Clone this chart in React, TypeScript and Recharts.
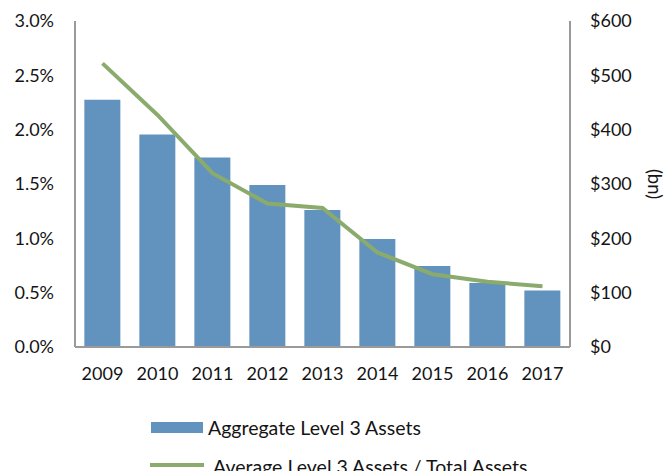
import React from 'react';
import { ComposedChart, Bar, Line, XAxis, YAxis, Legend } from 'recharts';

const years = ['2009', '2010', '2011', '2012', '2013', '2014', '2015', '2016', '2017'];
const aggregateLevel3 = [455, 391, 349, 298, 252, 199, 149, 118, 104];
const avgRatio = [2.61, 2.135, 1.6, 1.32, 1.28, 0.87, 0.67, 0.6, 0.56];
const pctTicks = [0, 0.5, 1, 1.5, 2, 2.5, 3];
const usdTicks = [0, 100, 200, 300, 400, 500, 600];

const data = years.map((y, i) => ({ year: y, agg: aggregateLevel3[i], ratio: avgRatio[i] }));

const FONT = 'Lato, "Open Sans", sans-serif';
const BAR = '#6193be';
const LINE = '#8bab6d';
const AXIS = '#9a9a9a';
const TXT = '#141414';

const renderLegend = () => (
  <svg width={665} height={71} style={{ display: 'block' }}>
    <rect x={151} y={22} width={52} height={11} fill={BAR} />
    <text x={208} y={27.5} dominantBaseline="central" fontFamily={FONT} fontSize={19.5} fill={TXT}>
      Aggregate Level 3 Assets
    </text>
    <line x1={150} y1={65} x2={204} y2={65} stroke={LINE} strokeWidth={4} />
    <text x={213} y={66.5} dominantBaseline="central" fontFamily={FONT} fontSize={19.5} fill={TXT}>
      Average Level 3 Assets / Total Assets
    </text>
  </svg>
);

const BnLabel = (props: any) => {
  const vb = props.viewBox || {};
  const cx = 655;
  const cy = vb.y + vb.height / 2;
  return (
    <text x={cx} y={cy} transform={`rotate(90, ${cx}, ${cy})`} textAnchor="middle" dominantBaseline="central" fontFamily={FONT} fontSize={18.5} fill={TXT}>
      (bn)
    </text>
  );
};

export default function App() {
  return (
    <div style={{ position: 'absolute', left: 0, top: 0, background: '#fff' }}>
      <ComposedChart
        width={665}
        height={471}
        data={data}
        margin={{ top: 21, right: 0, left: 0, bottom: 23 }}
        barCategoryGap="17%"
      >
        <XAxis
          dataKey="year"
          height={30}
          tickLine={false}
          tickSize={0}
          tickMargin={20}
          axisLine={{ stroke: AXIS, strokeWidth: 2 }}
          tick={{ fill: TXT, fontSize: 18, fontFamily: FONT }}
          interval={0}
        />
        <YAxis
          yAxisId="pct"
          orientation="left"
          width={75}
          domain={[0, 3]}
          ticks={pctTicks}
          tickFormatter={(v: number) => `${v.toFixed(1)}%`}
          tickLine={false}
          tickSize={0}
          tickMargin={21}
          axisLine={{ stroke: AXIS, strokeWidth: 2 }}
          tick={{ fill: TXT, fontSize: 18, fontFamily: FONT }}
          interval={0}
        />
        <YAxis
          yAxisId="usd"
          orientation="right"
          width={95}
          domain={[0, 600]}
          ticks={usdTicks}
          tickFormatter={(v: number) => `$${v}`}
          tickLine={false}
          tickSize={0}
          tickMargin={20}
          axisLine={{ stroke: AXIS, strokeWidth: 2 }}
          tick={{ fill: TXT, fontSize: 18, fontFamily: FONT, textAnchor: 'start' }}
          interval={0}
          label={<BnLabel />}
        />
        <Legend
          content={renderLegend}
          wrapperStyle={{ position: 'absolute', left: 0, top: 400, width: 665, height: 71 }}
        />
        <Bar yAxisId="usd" dataKey="agg" name="Aggregate Level 3 Assets" fill={BAR} isAnimationActive={false} />
        <Line
          yAxisId="pct"
          dataKey="ratio"
          name="Average Level 3 Assets / Total Assets"
          stroke={LINE}
          strokeWidth={4}
          dot={false}
          activeDot={false}
          type="linear"
          isAnimationActive={false}
        />
      </ComposedChart>
    </div>
  );
}
